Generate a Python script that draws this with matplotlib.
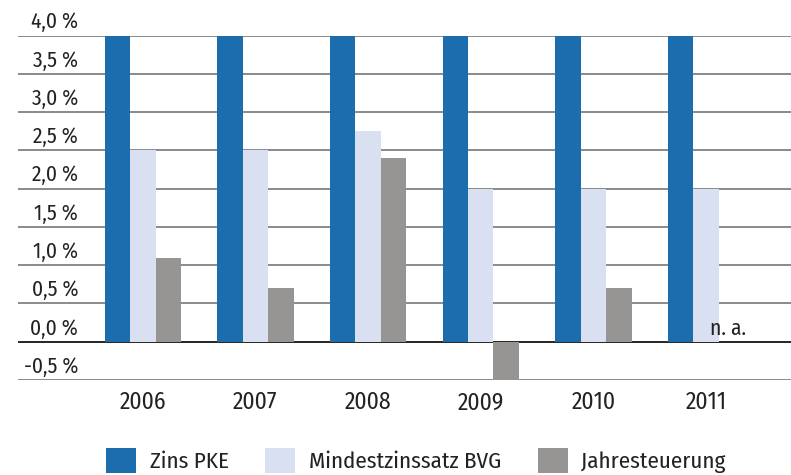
import matplotlib
matplotlib.use("Agg")
from matplotlib import pyplot as plt
from matplotlib import font_manager as fm
import numpy as np

# data
years = ["2006", "2007", "2008", "2009", "2010", "2011"]
zins_pke = [4.0, 4.0, 4.0, 4.0, 4.0, 4.0]
bvg = [2.5, 2.5, 2.75, 2.0, 2.0, 2.0]
teuerung = [1.1, 0.7, 2.4, -0.5, 0.7, np.nan]
series_names = ["Zins PKE", "Mindestzinssatz BVG", "Jahresteuerung"]
yticks = [-0.5, 0.0, 0.5, 1.0, 1.5, 2.0, 2.5, 3.0, 3.5, 4.0]

colors = ["#1c6dae", "#d8e0f1", "#969594"]
txt = "#222222"

# a narrow font is closest to the original
names = set(f.name for f in fm.fontManager.ttflist)
wanted = ['Fira Sans Condensed', 'Encode Sans Semi Condensed', 'Asap Condensed',
          'Archivo Narrow', 'Liberation Sans', 'DejaVu Sans']
plt.rcParams['font.family'] = [n for n in wanted if n in names]
plt.rcParams['font.weight'] = 'normal'

fig = plt.figure(figsize=(7.91, 4.75), dpi=100)
ax = fig.add_axes([18/791, 1-380/475, 1-18/791, (380-35.5)/475])

x = np.arange(len(years))
w = 0.226
bars = []
for k, vals in enumerate([zins_pke, bvg, teuerung]):
    b = ax.bar(x + (k-1)*w, vals, w, color=colors[k], zorder=3, label=series_names[k])
    bars.append(b)

# grid lines with labels above them
for t in yticks:
    ax.axhline(t, color="black" if t == 0 else "#777777", lw=1.2, zorder=2)
    lab = ("%.1f" % t).replace(".", ",") + " %"
    ax.annotate(lab, xy=(60/773, t), xycoords=ax.get_yaxis_transform(),
                xytext=(0, 2), textcoords="offset points",
                ha="right", va="bottom", fontsize=15.5, color=txt)

# n.a. for missing value
for i, v in enumerate(teuerung):
    if np.isnan(v):
        ax.annotate("n. a.", xy=(x[i] + 0.5*w, 0), xytext=(-6, 2),
                    textcoords="offset points", ha="left", va="bottom",
                    fontsize=15.5, color=txt)

ax.set_xlim(-1.108, 5.755)
ax.set_ylim(-0.5, 4.0)
ax.set_xticks(x)
ax.set_xticklabels(years, fontsize=17, color=txt)
ax.tick_params(axis="x", length=0, pad=8)
ax.set_yticks([])
for s in ax.spines.values():
    s.set_visible(False)

fig.legend(handles=bars, labels=series_names, loc="lower left",
           bbox_to_anchor=(104/791, 0.0), ncol=3, frameon=False,
           fontsize=16.5, handlelength=1.3, handleheight=1.3,
           handletextpad=0.6, columnspacing=1.6, borderaxespad=0,
           borderpad=0.1, labelcolor=txt)

plt.savefig("out.png", dpi=100)
